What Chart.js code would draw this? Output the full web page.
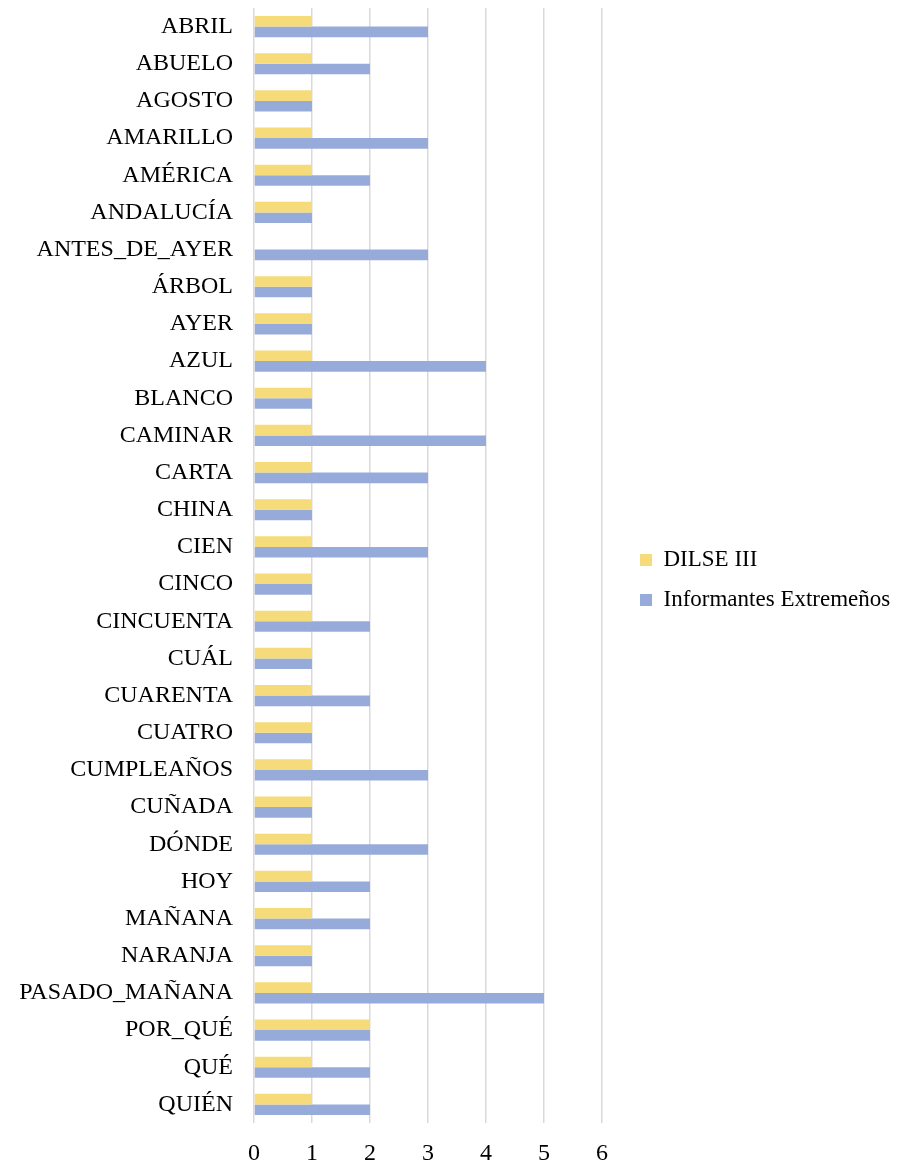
<!DOCTYPE html>
<html>
<head>
<meta charset="utf-8">
<script src="https://cdn.jsdelivr.net/npm/chart.js@4.4.0/dist/chart.umd.min.js"></script>
<style>
  html, body { margin: 0; padding: 0; background: #ffffff; }
  #wrap { width: 903px; height: 1164px; position: relative; }
</style>
</head>
<body>
<div id="wrap"><canvas id="c" width="903" height="1164"></canvas></div>
<script>
const categories = ["ABRIL","ABUELO","AGOSTO","AMARILLO","AMÉRICA","ANDALUCÍA","ANTES_DE_AYER","ÁRBOL","AYER","AZUL","BLANCO","CAMINAR","CARTA","CHINA","CIEN","CINCO","CINCUENTA","CUÁL","CUARENTA","CUATRO","CUMPLEAÑOS","CUÑADA","DÓNDE","HOY","MAÑANA","NARANJA","PASADO_MAÑANA","POR_QUÉ","QUÉ","QUIÉN"];
const dilseIII = [1,1,1,1,1,1,0,1,1,1,1,1,1,1,1,1,1,1,1,1,1,1,1,1,1,1,1,2,1,1];
const informantesExtremenos = [3,2,1,3,2,1,3,1,1,4,1,4,3,1,3,1,2,1,2,1,3,1,3,2,2,1,5,2,2,2];
const seriesNames = ["DILSE III", "Informantes Extremeños"];
const xTicksMin = 0, xTicksMax = 6, xTickStep = 1;

const FONT = "'Liberation Serif', 'Times New Roman', serif";

const legendShift = {
  id: 'legendShift',
  beforeInit(chart) {
    const lg = chart.legend;
    if (!lg) return;
    const origFit = lg.fit;
    lg.fit = function () {
      origFit.call(this);
      this.width = 301;
    };
    const origDraw = lg.draw;
    lg.draw = function () {
      const l = this.left, t = this.top, b = this.bottom;
      this.left = l + 21;
      this.top = t - 6;
      this.bottom = b - 6;
      origDraw.call(this);
      this.left = l;
      this.top = t;
      this.bottom = b;
    };
  }
};

new Chart(document.getElementById('c'), {
  type: 'bar',
  data: {
    labels: categories,
    datasets: [
      { label: seriesNames[0], data: dilseIII, backgroundColor: '#F6DB7A', borderWidth: 0 },
      { label: seriesNames[1], data: informantesExtremenos, backgroundColor: '#97ABDB', borderWidth: 0 }
    ]
  },
  options: {
    indexAxis: 'y',
    responsive: false,
    animation: false,
    devicePixelRatio: 1,
    datasets: { bar: { categoryPercentage: 0.57, barPercentage: 1.0 } },
    layout: { padding: { top: 8, left: 0, right: 0, bottom: 0 } },
    plugins: {
      legend: {
        position: 'right',
        align: 'center',
        labels: {
          boxWidth: 12,
          boxHeight: 12,
          padding: 17,
          color: '#000',
          font: { family: FONT, size: 23 }
        }
      },
      tooltip: { enabled: false }
    },
    scales: {
      x: {
        min: xTicksMin, max: xTicksMax,
        ticks: { stepSize: xTickStep, color: '#000', padding: 16, font: { family: FONT, size: 24 } },
        grid: { color: '#d9d9d9', lineWidth: 1.5, drawTicks: false },
        border: { display: false },
        afterFit(scale) { scale.height = 41; scale.paddingLeft = 0; scale.paddingRight = 0; }
      },
      y: {
        ticks: { color: '#000', padding: 21, font: { family: FONT, size: 24 }, autoSkip: false },
        grid: { display: false, drawTicks: false },
        border: { display: false },
        afterFit(scale) { scale.width = 254; scale.paddingTop = 0; scale.paddingBottom = 0; }
      }
    }
  },
  plugins: [legendShift]
});
</script>
</body>
</html>
